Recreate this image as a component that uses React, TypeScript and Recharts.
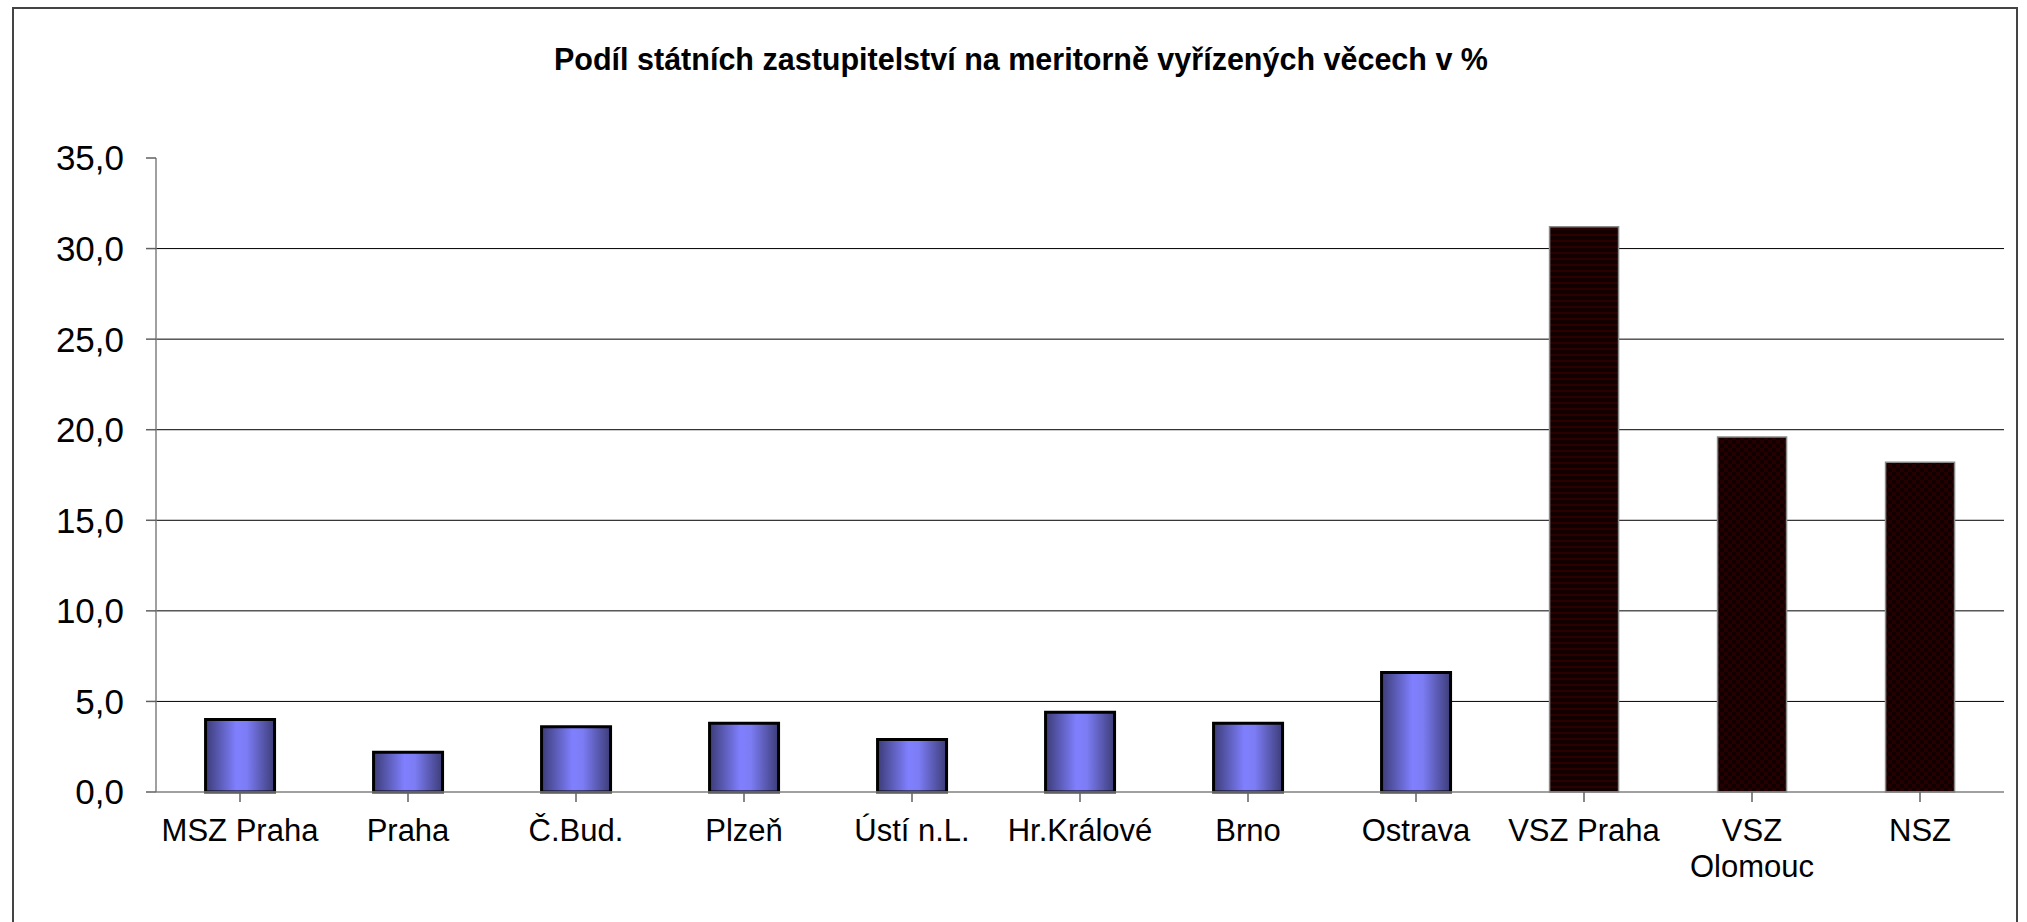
import React from 'react';
import { BarChart, Bar, XAxis, YAxis, CartesianGrid, Cell } from 'recharts';

const categories = [
  'MSZ Praha',
  'Praha',
  'Č.Bud.',
  'Plzeň',
  'Ústí n.L.',
  'Hr.Králové',
  'Brno',
  'Ostrava',
  'VSZ Praha',
  'VSZ Olomouc',
  'NSZ',
];

const shares = [4.0, 2.2, 3.6, 3.8, 2.9, 4.4, 3.8, 6.6, 31.2, 19.6, 18.2];

// higher-level offices drawn in dark
const higherOffices = ['VSZ Praha', 'VSZ Olomouc', 'NSZ'];

const yTicks = [0, 5, 10, 15, 20, 25, 30, 35];
const gridValues = [5, 10, 15, 20, 25, 30];

const data = categories.map((name, i) => ({ name, value: shares[i] }));

const fmt = (v: number) => v.toFixed(1).replace('.', ',');

const font = '"Liberation Sans", Arial, sans-serif';

// long labels don't fit the category width, break them at the last space
function splitLabel(label: string): string[] {
  if (label.length <= 10 || label.indexOf(' ') < 0) return [label];
  const at = label.lastIndexOf(' ');
  return [label.slice(0, at), label.slice(at + 1)];
}

function CategoryTick({ x, y, payload }: any) {
  const lines = splitLabel(String(payload.value));
  return (
    <text
      x={x}
      y={y}
      textAnchor="middle"
      fontSize={31}
      fontFamily={font}
      fill="#000"
    >
      {lines.map((line, i) => (
        <tspan key={i} x={x} dy={i === 0 ? '0.71em' : 36}>
          {line}
        </tspan>
      ))}
    </text>
  );
}

export default function App() {
  return (
    <div
      style={{
        position: 'absolute',
        left: 0,
        top: 0,
        width: 2027,
        height: 922,
        overflow: 'hidden',
        background: '#fff',
        fontFamily: font,
      }}
    >
      <div
        style={{
          position: 'absolute',
          left: 12,
          top: 7,
          width: 2006,
          height: 1000,
          border: '2px solid #444',
          boxSizing: 'border-box',
        }}
      />
      <div
        style={{
          position: 'absolute',
          left: 13,
          top: 44,
          width: 2016,
          textAlign: 'center',
          fontSize: 30.5,
          lineHeight: '30px',
          fontWeight: 'bold',
          color: '#000',
        }}
      >
        Podíl státních zastupitelství na meritorně vyřízených věcech v %
      </div>
      <div style={{ position: 'absolute', left: 0, top: 0 }}>
        <BarChart
          width={2027}
          height={922}
          data={data}
          margin={{ top: 158, right: 23, bottom: 30, left: 0 }}
          barCategoryGap="29.5%"
        >
          <defs>
            <linearGradient id="blueBar" x1="0" y1="0" x2="1" y2="0">
              <stop offset="0%" stopColor="#3c3c78" />
              <stop offset="45%" stopColor="#8080ff" />
              <stop offset="60%" stopColor="#7c7cf4" />
              <stop offset="100%" stopColor="#3c3c78" />
            </linearGradient>
            <pattern id="stripes" width="6" height="6" patternUnits="userSpaceOnUse">
              <rect width="6" height="6" fill="#120000" />
              <rect width="6" height="2" fill="#2a0000" />
            </pattern>
            <pattern id="checks" width="8" height="8" patternUnits="userSpaceOnUse">
              <rect width="8" height="8" fill="#120000" />
              <rect width="4" height="4" fill="#240000" />
              <rect x="4" y="4" width="4" height="4" fill="#240000" />
            </pattern>
          </defs>
          <CartesianGrid
            vertical={false}
            horizontalValues={gridValues}
            stroke="#000"
            strokeWidth={1}
          />
          <XAxis
            dataKey="name"
            height={100}
            interval={0}
            tickSize={10}
            tickMargin={17}
            axisLine={{ stroke: '#808080', strokeWidth: 1.5 }}
            tickLine={{ stroke: '#606060', strokeWidth: 1.5 }}
            tick={<CategoryTick />}
          />
          <YAxis
            width={156}
            domain={[0, 35]}
            ticks={yTicks}
            interval={0}
            tickSize={10}
            tickMargin={22}
            tickFormatter={fmt}
            axisLine={{ stroke: '#808080', strokeWidth: 1.5 }}
            tickLine={{ stroke: '#606060', strokeWidth: 1.5 }}
            tick={{ fill: '#000', fontSize: 35, fontFamily: font }}
          />
          <Bar dataKey="value" isAnimationActive={false}>
            {data.map((d, i) => {
              const dark = higherOffices.includes(d.name);
              return (
                <Cell
                  key={d.name}
                  fill={dark ? (i === 8 ? 'url(#stripes)' : 'url(#checks)') : 'url(#blueBar)'}
                  stroke={dark ? '#8a8a8a' : '#000'}
                  strokeWidth={dark ? 1.5 : 3}
                />
              );
            })}
          </Bar>
        </BarChart>
      </div>
    </div>
  );
}
